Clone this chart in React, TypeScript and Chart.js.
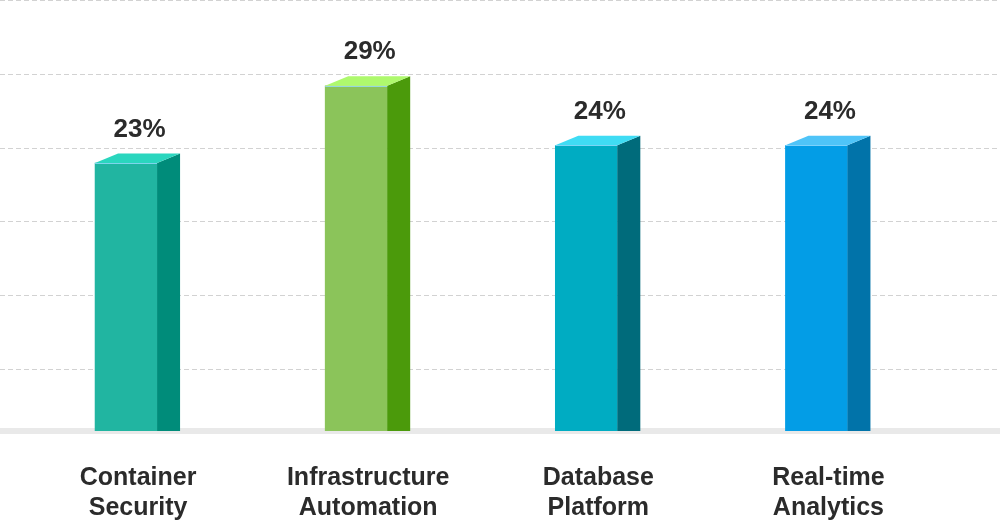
import { useEffect, useRef } from "react";
import { Chart, registerables } from "chart.js";

Chart.register(...registerables);

// ---- data ----
const CATEGORIES: string[][] = [
  ["Container", "Security"],
  ["Infrastructure", "Automation"],
  ["Database", "Platform"],
  ["Real-time", "Analytics"],
];
const VALUES: number[] = [22.5, 29, 24, 24];
const GRID_VALUES: number[] = [5.2, 11.4, 17.6, 23.8, 30, 36.2];
const Y_MAX = 36.2;

// ---- styles ----
const FRONT = ["#21b5a1", "#8bc45a", "#00acc2", "#039de6"];
const SIDE = ["#008c7a", "#4b9a0b", "#006b7b", "#0173a9"];
const TOP = ["#2ad6be", "#aef96d", "#3fdcf4", "#4fc4f8"];
const FONT = "'Liberation Sans', Arial, Helvetica, sans-serif";
const TEXT = "#2b2b2b";
const DX = 23;
const DY = 9.5;

const bar3dPlugin = {
  id: "bar3d",
  beforeDatasetsDraw(chart: any) {
    const { ctx, width } = chart;
    const y = chart.scales.y;
    ctx.save();
    ctx.strokeStyle = "#d2d2d2";
    ctx.lineWidth = 1.2;
    ctx.setLineDash([5, 3]);
    GRID_VALUES.forEach((v) => {
      const py = Math.round(y.getPixelForValue(v)) + 0.5;
      ctx.beginPath();
      ctx.moveTo(0, py);
      ctx.lineTo(width, py);
      ctx.stroke();
    });
    ctx.setLineDash([]);
    const base = y.getPixelForValue(0);
    ctx.fillStyle = "#e9e9e9";
    ctx.fillRect(0, base - 3, width, 6);
    ctx.restore();
  },
  afterDatasetsDraw(chart: any) {
    const { ctx } = chart;
    const meta = chart.getDatasetMeta(0);
    ctx.save();
    meta.data.forEach((bar: any, i: number) => {
      const { x, y, base, width } = bar.getProps(["x", "y", "base", "width"], true);
      const l = x - width / 2;
      const r = x + width / 2;
      // side face
      ctx.fillStyle = SIDE[i];
      ctx.beginPath();
      ctx.moveTo(r, y);
      ctx.lineTo(r + DX, y - DY);
      ctx.lineTo(r + DX, base);
      ctx.lineTo(r, base);
      ctx.closePath();
      ctx.fill();
      // top face
      ctx.fillStyle = TOP[i];
      ctx.beginPath();
      ctx.moveTo(l, y);
      ctx.lineTo(l + DX, y - DY);
      ctx.lineTo(r + DX, y - DY);
      ctx.lineTo(r, y);
      ctx.closePath();
      ctx.fill();
      // highlight edge
      ctx.strokeStyle = "rgba(150,220,255,0.8)";
      ctx.lineWidth = 1;
      ctx.beginPath();
      ctx.moveTo(l, Math.round(y) + 0.5);
      ctx.lineTo(r, Math.round(y) + 0.5);
      ctx.stroke();
      // value label
      ctx.fillStyle = TEXT;
      ctx.font = `bold 26px ${FONT}`;
      ctx.textAlign = "center";
      ctx.textBaseline = "alphabetic";
      ctx.fillText(`${Math.round(VALUES[i])}%`, x + DX / 2 + 2, y - DY - 17);
    });
    ctx.restore();
  },
};

export default function App() {
  const ref = useRef<HTMLCanvasElement>(null);
  useEffect(() => {
    if (!ref.current) return;
    const chart = new Chart(ref.current, {
      type: "bar",
      data: {
        labels: CATEGORIES,
        datasets: [
          {
            data: VALUES,
            backgroundColor: FRONT,
            borderWidth: 0,
            barThickness: 62,
          },
        ],
      },
      options: {
        responsive: false,
        animation: false,
        devicePixelRatio: 1,
        layout: { padding: { left: 11, right: 68.5, top: 0, bottom: 0 } },
        plugins: {
          legend: { display: false },
          tooltip: { enabled: false },
        },
        scales: {
          x: {
            grid: { display: false, drawTicks: false },
            border: { display: false },
            ticks: {
              padding: 32,
              labelOffset: 12,
              color: TEXT,
              autoSkip: false,
              maxRotation: 0,
              font: { family: FONT, size: 25, weight: "bold", lineHeight: 1.2 },
            },
            afterFit: (s: any) => {
              s.height = 93;
            },
          },
          y: {
            display: false,
            min: 0,
            max: Y_MAX,
          },
        },
      },
      plugins: [bar3dPlugin],
    } as any);
    return () => chart.destroy();
  }, []);
  return (
    <div style={{ position: "fixed", left: 0, top: 0, width: 1000, height: 524, background: "#fff" }}>
      <canvas ref={ref} width={1000} height={524} style={{ display: "block" }} />
    </div>
  );
}
